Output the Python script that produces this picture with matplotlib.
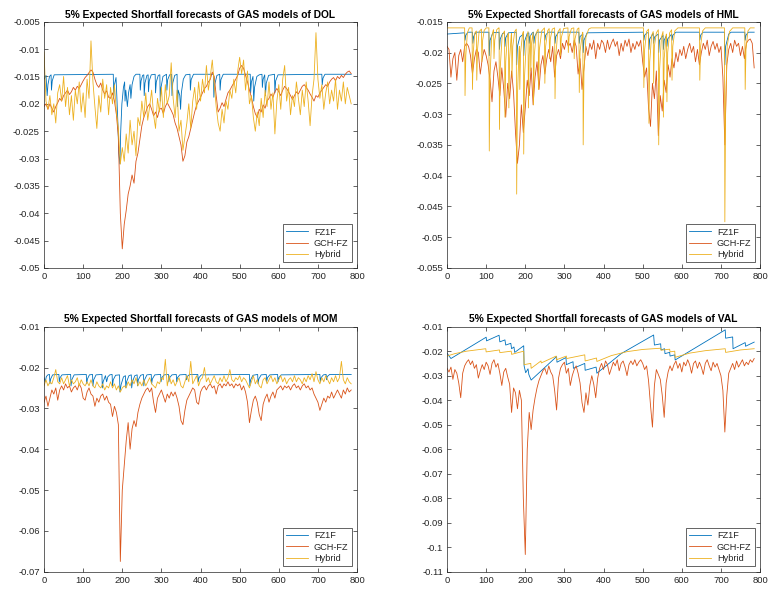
import matplotlib
matplotlib.use('Agg')
import matplotlib.pyplot as plt
import numpy as np

plt.rcParams['font.family'] = ['Liberation Sans', 'DejaVu Sans']

# values in thousandths, GCH-FZ / Hybrid sampled every 5 observations
dol_gch = [
    -20.5, -20.0, -21.0, -20.0, -20.8, -21.5, -20.5, -19.8, -19.0, -19.5,
    -18.5, -18.0, -17.5, -18.3, -17.8, -17.0, -17.5, -16.8, -17.2, -16.5,
    -15.8, -15.2, -14.8, -14.3, -13.8, -14.2, -15.5, -16.5, -17.0, -16.2,
    -17.5, -18.2, -17.6, -18.8, -19.0, -18.0, -19.5, -22.0, -26.0, -40.0,
    -46.5, -42.0, -39.5, -36.5, -35.0, -33.0, -34.5, -30.5, -29.0, -26.5,
    -24.0, -22.5, -21.5, -20.5, -20.0, -21.0, -22.2, -21.5, -22.5, -21.0,
    -20.8, -21.8, -20.5, -19.8, -20.5, -21.2, -22.0, -23.5, -24.5, -26.0,
    -27.5, -30.5, -29.5, -27.0, -26.0, -24.5, -23.0, -21.5, -20.2, -19.5,
    -18.8, -18.0, -17.2, -16.8, -16.0, -15.5, -14.2, -15.0, -18.5, -21.5,
    -20.8, -19.8, -20.5, -19.2, -18.0, -17.5, -16.8, -16.2, -15.5, -14.8,
    -13.5, -13.0, -13.5, -14.8, -16.0, -17.5, -18.8, -20.5, -21.8, -22.5,
    -21.0, -21.5, -20.2, -20.8, -19.5, -19.0, -18.2, -18.8, -17.8, -17.2,
    -17.8, -18.5, -17.5, -16.8, -17.2, -17.8, -18.5, -19.2, -18.5, -17.8,
    -18.2, -17.5, -16.8, -16.5, -17.0, -17.5, -18.2, -18.8, -19.5, -18.5,
    -18.8, -18.0, -17.5, -17.0, -16.5, -16.8, -16.0, -15.5, -15.2, -15.8,
    -15.0, -15.4, -14.8, -15.2, -14.6, -14.2, -14.0, -14.5,
]
dol_hyb = [
    -10.5, -19.5, -21.0, -18.5, -22.0, -20.0, -23.5, -18.0, -16.5, -19.5,
    -15.0, -20.5, -17.0, -22.0, -18.5, -23.0, -17.5, -20.0, -16.0, -21.5,
    -18.0, -22.5, -15.5, -19.0, -8.5, -16.0, -20.5, -24.5, -18.5, -21.5,
    -15.5, -19.0, -16.5, -22.0, -17.0, -20.0, -16.5, -21.5, -24.5, -31.0,
    -28.0, -30.5, -25.5, -29.0, -23.0, -27.5, -25.0, -29.5, -22.5, -24.0,
    -19.5, -22.5, -18.0, -23.0, -20.5, -17.5, -22.0, -24.5, -19.0, -21.5,
    -17.0, -22.5, -16.5, -20.0, -18.5, -12.5, -19.0, -22.5, -17.5, -25.0,
    -23.0, -28.5, -26.0, -23.5, -20.0, -24.5, -19.5, -17.0, -21.0, -16.0,
    -19.5, -15.5, -18.0, -13.0, -17.5, -15.0, -12.0, -16.5, -20.5, -23.5,
    -25.0, -21.0, -23.5, -19.5, -21.0, -17.5, -19.0, -15.5, -18.0, -14.0,
    -11.5, -14.5, -12.0, -17.5, -14.0, -20.0, -18.5, -22.5, -25.0, -21.5,
    -24.0, -19.0, -22.5, -17.5, -20.5, -16.0, -21.0, -18.0, -25.5, -19.5,
    -16.5, -21.0, -15.5, -13.0, -19.5, -17.0, -22.0, -18.5, -20.5, -16.0,
    -19.0, -22.0, -17.5, -20.5, -16.0, -19.5, -24.0, -18.5, -15.5, -7.0,
    -15.5, -19.0, -16.5, -21.0, -18.0, -16.0, -20.0, -17.5, -19.5, -15.5,
    -21.0, -17.5, -19.5, -16.0, -20.0, -17.0, -18.5, -20.0,
]
dol_fz = [
    (0, -15.5), (5, -14.8), (8, -18.5), (10, -16.5), (14, -15.0), (18, -14.7), (19, -17.5),
    (21, -15.8), (26, -14.7), (177, -14.6), (178, -19.0), (180, -16.5), (184, -15.2),
    (186, -18.5), (189, -24.0), (191, -29.0), (194, -31.0), (196, -25.0), (199, -20.0),
    (203, -17.0), (206, -16.0), (207, -19.5), (209, -17.5), (213, -20.5), (216, -18.0),
    (220, -16.5), (222, -19.0), (225, -16.5), (230, -15.0), (235, -14.6), (245, -14.6),
    (246, -17.5), (248, -15.8), (252, -14.8), (255, -14.7), (256, -18.5), (258, -16.2),
    (263, -14.8), (266, -14.7), (267, -17.8), (269, -15.8), (274, -14.7), (284, -14.6),
    (285, -18.0), (287, -16.0), (292, -14.8), (296, -14.7), (297, -19.5), (299, -17.0),
    (304, -15.0), (313, -14.6), (314, -17.5), (316, -15.6), (321, -14.7), (326, -14.6),
    (327, -18.5), (329, -16.2), (334, -14.8), (340, -14.6), (341, -20.5), (343, -17.5),
    (347, -18.5), (349, -21.0), (351, -18.0), (356, -15.5), (362, -14.7), (373, -14.6),
    (374, -17.5), (376, -15.6), (382, -14.6), (433, -14.6), (434, -18.8), (436, -16.5),
    (442, -14.8), (449, -14.6), (450, -17.5), (452, -15.6), (458, -14.6), (527, -14.6),
    (528, -18.0), (530, -16.0), (534, -15.0), (536, -19.5), (538, -17.0), (544, -15.0),
    (550, -14.7), (557, -14.6), (558, -17.0), (560, -15.5), (564, -14.7), (566, -18.5),
    (568, -16.2), (574, -14.8), (589, -14.6), (590, -18.0), (592, -15.8), (598, -14.7),
    (710, -14.6), (711, -16.5), (713, -15.3), (718, -14.6), (785, -14.6),
]

hml_gch = [
    -19.0, -19.5, -24.0, -21.0, -20.0, -24.5, -20.5, -19.5, -21.5, -19.0,
    -18.5, -19.0, -20.5, -23.5, -21.0, -19.5, -20.0, -23.5, -21.0, -19.5,
    -20.5, -22.0, -24.5, -28.0, -23.0, -21.5, -24.0, -27.0, -22.5, -26.0,
    -30.5, -25.0, -27.5, -23.0, -26.5, -33.0, -38.0, -35.0, -28.5, -33.0,
    -29.0, -24.5, -27.0, -22.5, -28.5, -24.0, -21.5, -26.0, -22.0, -20.5,
    -23.5, -21.0, -19.5, -21.5, -19.0, -24.0, -20.5, -19.5, -21.0, -18.5,
    -19.5, -18.0, -19.0, -18.5, -20.0, -18.0, -19.0, -23.5, -21.0, -26.0,
    -22.5, -19.0, -20.5, -18.5, -19.5, -18.0, -21.0, -18.5, -19.5, -18.0,
    -18.5, -20.0, -18.0, -19.5, -18.5, -17.8, -19.0, -18.2, -20.5, -18.5,
    -19.8, -18.0, -19.0, -17.8, -20.0, -18.5, -19.5, -18.2, -19.0, -18.0,
    -21.5, -24.0, -22.5, -29.0, -32.0, -25.0, -27.5, -23.0, -33.5, -27.0,
    -29.5, -24.5, -26.5, -22.0, -24.0, -21.0, -22.5, -20.0, -21.5, -19.5,
    -20.5, -19.0, -21.0, -19.5, -18.5, -20.0, -19.0, -21.5, -19.5, -22.0,
    -20.0, -18.5, -19.5, -18.0, -20.5, -19.0, -18.2, -19.5, -18.5, -20.0,
    -19.0, -24.0, -35.0, -22.0, -19.5, -18.5, -20.0, -18.0, -19.0, -18.5,
    -20.5, -19.0, -21.0, -18.5, -18.0, -17.8, -18.5, -22.5,
]
hml_hyb = [
    (0, -16.0), (45, -16.0), (46, -27.0), (48, -20.5), (52, -16.8), (57, -16.0),
    (64, -16.0), (65, -26.0), (67, -20.0), (71, -16.8), (75, -16.5), (76, -24.5),
    (78, -19.5), (82, -16.6), (88, -16.2), (89, -21.5), (91, -18.0), (95, -16.4),
    (100, -16.0), (107, -16.0), (108, -36.0), (110, -24.0), (114, -17.5), (118, -16.4),
    (119, -16.3), (120, -21.0), (122, -18.0), (127, -16.3), (132, -16.0), (133, -16.0),
    (134, -32.5), (136, -22.5), (141, -17.2), (147, -16.5), (148, -30.5), (150, -21.5),
    (154, -17.5), (157, -16.8), (158, -29.0), (160, -21.0), (164, -17.2), (165, -16.9),
    (166, -24.0), (168, -19.0), (173, -16.6), (177, -16.2), (178, -43.0), (180, -27.0),
    (184, -19.5), (185, -19.0), (186, -26.0), (188, -20.0), (193, -17.0), (195, -16.6),
    (196, -36.5), (198, -24.0), (203, -17.8), (207, -16.6), (208, -29.0), (210, -20.5),
    (213, -17.2), (214, -23.0), (216, -18.5), (220, -16.7), (221, -28.5), (223, -20.5),
    (228, -16.8), (233, -16.2), (234, -26.0), (236, -19.5), (242, -16.5), (249, -16.0),
    (250, -25.0), (252, -19.0), (257, -16.5), (261, -16.1), (262, -21.0), (264, -17.8),
    (269, -16.2), (275, -16.0), (276, -27.5), (278, -20.5), (283, -16.7), (289, -16.1),
    (290, -20.5), (292, -17.6), (298, -16.1), (309, -16.0), (310, -20.0), (312, -17.4),
    (318, -16.1), (324, -16.0), (325, -21.0), (327, -17.8), (333, -16.2), (337, -16.0),
    (338, -26.5), (340, -19.8), (346, -16.8), (347, -16.7), (348, -35.0), (350, -23.0),
    (355, -17.5), (362, -16.2), (368, -16.0), (502, -16.0), (503, -25.7), (505, -19.5),
    (510, -16.6), (515, -16.2), (516, -31.5), (518, -21.5), (523, -17.2), (527, -16.6),
    (528, -25.0), (530, -19.0), (535, -16.8), (540, -16.3), (541, -35.0), (543, -23.0),
    (548, -17.5), (552, -16.6), (553, -30.5), (555, -21.0), (560, -17.1), (561, -17.0),
    (562, -28.0), (564, -20.0), (569, -16.8), (574, -16.3), (575, -24.5), (577, -19.0),
    (582, -16.5), (590, -16.0), (645, -16.0), (646, -24.5), (648, -19.0), (653, -16.5),
    (660, -16.0), (709, -16.0), (710, -47.5), (712, -29.0), (716, -19.0), (722, -16.6),
    (730, -16.0), (761, -16.0), (762, -26.0), (764, -19.5), (769, -16.5), (775, -16.0),
    (785, -16.0),
]
hml_fz = [
    (0, -17.0), (45, -16.8), (46, -18.0), (48, -17.2), (53, -16.7), (65, -16.7), (66, -18.5),
    (68, -17.4), (74, -16.7), (107, -16.7), (108, -20.5), (110, -18.0), (117, -16.8),
    (133, -16.7), (134, -19.5), (136, -17.8), (142, -16.9), (147, -16.8), (148, -19.0),
    (150, -17.6), (157, -16.8), (177, -16.7), (178, -22.0), (180, -19.0), (186, -17.5),
    (195, -17.0), (196, -20.5), (198, -18.2), (205, -16.9), (209, -16.8), (210, -18.5),
    (212, -17.4), (218, -16.8), (221, -16.7), (222, -18.5), (224, -17.4), (230, -16.7),
    (249, -16.7), (250, -18.0), (252, -17.2), (258, -16.7), (275, -16.7), (276, -18.5),
    (278, -17.4), (285, -16.7), (337, -16.7), (338, -18.5), (340, -17.4), (347, -17.0),
    (348, -20.0), (350, -18.0), (358, -16.8), (502, -16.7), (503, -18.0), (505, -17.2),
    (511, -16.8), (515, -16.8), (516, -19.5), (518, -17.8), (527, -16.9), (528, -18.5),
    (530, -17.5), (540, -17.0), (541, -20.0), (543, -18.0), (552, -17.2), (553, -19.5),
    (555, -18.0), (561, -17.2), (562, -19.0), (564, -17.8), (574, -17.0), (575, -18.0),
    (577, -17.2), (585, -16.7), (645, -16.7), (646, -18.0), (648, -17.2), (654, -16.7),
    (709, -16.7), (710, -22.0), (712, -19.0), (720, -17.0), (726, -16.7), (761, -16.7),
    (762, -18.0), (764, -17.2), (770, -16.7), (785, -16.7),
]

mom_gch = [
    -28.5, -27.0, -29.5, -27.5, -25.5, -26.5, -25.0, -28.0, -25.5, -24.5,
    -25.5, -24.0, -25.0, -24.5, -26.0, -25.0, -24.5, -25.5, -24.0, -25.0,
    -27.5, -28.0, -26.0, -25.0, -26.5, -27.0, -29.5, -27.5, -28.5, -27.0,
    -26.5, -28.0, -27.0, -28.5, -29.0, -32.0, -29.5, -31.0, -34.0, -67.5,
    -50.0, -44.0, -38.0, -33.5, -40.0, -35.0, -33.0, -34.5, -31.0, -29.0,
    -27.5, -26.5, -25.5, -25.0, -26.0, -25.0, -28.5, -31.0, -27.5, -26.5,
    -25.5, -27.0, -28.5, -26.5, -27.5, -26.0, -27.0, -26.0, -27.5, -29.5,
    -33.0, -34.0, -30.5, -28.0, -27.0, -26.0, -25.0, -25.5, -28.5, -29.0,
    -26.0, -25.0, -24.5, -25.5, -24.5, -24.0, -25.0, -24.5, -26.5, -24.5,
    -24.0, -25.0, -24.0, -24.5, -23.5, -24.5, -24.0, -25.0, -24.0, -24.5,
    -24.0, -25.5, -24.5, -26.0, -28.5, -33.5, -30.5, -28.0, -27.0, -28.5,
    -31.5, -33.0, -29.0, -27.5, -26.5, -28.5, -27.0, -26.0, -27.5, -25.5,
    -25.0, -24.5, -25.5, -24.5, -25.0, -24.5, -25.5, -24.5, -24.0, -25.0,
    -24.5, -25.5, -24.5, -24.0, -25.0, -24.5, -25.5, -25.0, -26.5, -27.5,
    -28.5, -30.5, -29.0, -27.5, -28.5, -27.0, -27.5, -26.0, -27.5, -26.5,
    -25.5, -26.5, -27.5, -25.5, -26.5, -25.0, -26.0, -25.5,
]
mom_hyb = [
    -24.5, -23.0, -24.5, -23.5, -24.0, -22.5, -20.5, -23.5, -24.0, -22.5,
    -24.0, -23.0, -22.0, -24.5, -23.0, -24.0, -23.5, -22.5, -24.5, -23.0,
    -24.0, -24.5, -23.5, -24.5, -23.0, -24.5, -25.0, -23.5, -24.5, -25.0,
    -24.0, -25.5, -24.5, -25.0, -23.5, -25.0, -24.0, -25.5, -24.5, -26.0,
    -25.0, -24.5, -25.0, -23.5, -24.5, -23.0, -24.0, -22.5, -24.5, -23.5,
    -24.5, -23.0, -24.5, -23.5, -22.5, -24.0, -24.5, -25.0, -23.5, -24.0,
    -22.5, -23.0, -18.0, -24.5, -22.0, -24.0, -23.0, -24.5, -23.5, -22.5,
    -24.5, -25.0, -23.5, -22.0, -23.5, -18.5, -24.0, -23.0, -22.0, -24.5,
    -23.0, -22.5, -20.0, -23.5, -22.5, -24.0, -23.0, -22.0, -23.5, -24.0,
    -22.5, -23.5, -22.0, -23.5, -22.5, -20.5, -23.0, -23.5, -22.5, -23.0,
    -22.0, -23.5, -22.5, -23.0, -24.0, -25.0, -23.5, -22.0, -24.0, -23.0,
    -24.5, -25.0, -23.0, -22.5, -24.0, -23.0, -22.0, -23.5, -22.5, -24.0,
    -23.0, -22.0, -23.5, -22.5, -24.0, -23.0, -22.5, -23.5, -22.0, -23.5,
    -22.5, -23.0, -24.0, -22.5, -23.5, -22.0, -23.0, -21.5, -23.5, -21.0,
    -23.0, -24.0, -22.5, -23.5, -22.0, -23.0, -24.0, -22.5, -23.5, -22.0,
    -23.5, -22.5, -18.5, -23.0, -24.0, -22.5, -23.5, -24.0,
]
mom_fz = [
    (0, -22.5), (3, -23.5), (6, -22.2), (10, -21.8), (14, -21.7), (15, -24.0), (17, -22.8),
    (22, -21.8), (38, -21.7), (39, -23.5), (41, -22.5), (46, -21.8), (68, -21.7), (69, -24.5),
    (71, -23.0), (77, -21.8), (108, -21.7), (109, -24.0), (111, -22.8), (116, -21.8),
    (124, -21.7), (125, -24.5), (127, -23.0), (133, -21.8), (148, -21.7), (149, -25.0),
    (151, -23.5), (157, -22.0), (160, -23.5), (163, -22.3), (168, -21.8), (174, -21.7),
    (175, -24.5), (177, -23.0), (183, -21.9), (193, -21.8), (194, -26.0), (197, -24.2),
    (203, -22.3), (208, -22.0), (209, -25.0), (211, -23.5), (217, -22.0), (223, -21.8),
    (224, -25.0), (226, -23.5), (232, -22.0), (238, -21.8), (239, -24.5), (241, -23.0),
    (247, -21.9), (254, -21.7), (255, -24.5), (257, -23.0), (263, -21.8), (274, -21.7),
    (275, -24.0), (277, -22.8), (283, -21.8), (298, -21.7), (299, -23.5), (301, -22.5),
    (307, -21.8), (318, -21.7), (319, -23.5), (321, -22.5), (327, -21.8), (338, -21.7),
    (339, -23.5), (341, -22.5), (347, -21.8), (363, -21.7), (364, -23.0), (366, -22.2),
    (372, -21.7), (393, -21.7), (394, -23.5), (396, -22.5), (402, -21.8), (525, -21.7),
    (526, -24.5), (528, -23.0), (534, -21.9), (546, -21.7), (547, -24.0), (549, -22.8),
    (555, -21.8), (568, -21.7), (569, -23.5), (571, -22.5), (577, -21.8), (597, -21.7),
    (598, -23.5), (600, -22.5), (606, -21.8), (705, -21.7), (706, -23.5), (708, -22.5),
    (714, -21.8), (721, -21.7), (722, -23.0), (724, -22.2), (730, -21.7), (785, -21.7),
]

val_gch = [
    -27.0, -28.5, -26.5, -31.5, -27.5, -29.0, -33.0, -39.0, -29.0, -26.0,
    -24.5, -23.5, -25.5, -24.0, -27.0, -25.5, -31.0, -28.0, -25.5, -27.5,
    -24.5, -26.0, -29.5, -25.0, -23.5, -26.5, -25.0, -29.0, -34.0, -28.5,
    -27.0, -30.5, -33.5, -45.0, -35.0, -37.0, -43.5, -36.0, -40.0, -80.0,
    -103.0, -60.0, -45.0, -52.0, -44.0, -39.0, -35.0, -32.0, -30.0, -28.0,
    -27.0, -29.5, -26.0, -28.5, -30.0, -36.0, -44.0, -31.0, -27.0, -25.5,
    -24.5, -29.0, -27.0, -34.0, -30.0, -27.5, -26.0, -29.0, -33.0, -41.0,
    -45.0, -37.0, -42.0, -34.0, -30.0, -33.5, -39.0, -31.0, -27.0, -25.0,
    -27.5, -24.0, -25.5, -29.5, -27.0, -24.5, -26.0, -23.5, -28.0, -25.0,
    -24.0, -26.5, -30.0, -25.5, -24.0, -25.5, -23.5, -26.0, -24.5, -23.5,
    -25.0, -27.5, -26.0, -32.0, -42.0, -51.0, -34.0, -27.5, -29.5, -31.5,
    -38.0, -47.0, -33.0, -28.5, -26.0, -28.0, -25.5, -24.0, -27.0, -25.0,
    -28.5, -24.5, -26.0, -23.5, -25.5, -29.0, -25.0, -24.0, -27.0, -24.5,
    -26.5, -29.5, -25.0, -23.5, -26.0, -28.0, -24.5, -26.5, -25.0, -27.5,
    -30.0, -36.0, -53.0, -38.0, -29.0, -27.0, -25.0, -27.5, -24.0, -26.5,
    -25.0, -23.5, -26.0, -24.5, -25.5, -23.5, -24.5, -23.0,
]
val_hyb = [
    (0, -22.0), (20, -21.0), (50, -20.0), (99, -19.0), (100, -20.3), (134, -19.5),
    (135, -20.6), (164, -20.0), (165, -21.3), (196, -20.0), (197, -25.5), (214, -25.0),
    (215, -27.0), (240, -24.0), (241, -24.8), (279, -22.0), (280, -23.5), (305, -22.0),
    (306, -23.0), (352, -21.5), (353, -24.0), (382, -22.8), (383, -24.2), (420, -21.8),
    (460, -20.2), (500, -19.3), (546, -18.8), (547, -19.6), (569, -19.2), (570, -20.3),
    (582, -20.0), (583, -22.5), (620, -20.8), (660, -19.8), (711, -19.0), (712, -20.5),
    (750, -19.5), (785, -19.0),
]
val_fz = [
    (0, -20.8), (10, -23.0), (100, -14.3), (101, -15.8), (133, -13.5), (135, -16.2),
    (148, -15.4), (150, -17.5), (163, -16.8), (165, -19.0), (171, -18.3), (173, -20.5),
    (196, -17.8), (197, -26.0), (201, -28.8), (207, -27.2), (209, -29.5), (215, -31.8),
    (280, -22.2), (281, -24.5), (304, -22.6), (305, -25.5), (322, -24.3), (323, -27.0),
    (352, -25.0), (353, -27.8), (381, -26.5), (383, -29.0), (445, -21.0), (528, -13.4),
    (530, -17.5), (546, -17.0), (547, -19.5), (556, -19.0), (557, -21.0), (569, -20.5),
    (570, -22.0), (582, -21.5), (583, -23.6), (711, -11.3), (712, -14.7), (730, -14.2),
    (731, -19.0), (762, -16.5), (763, -18.0), (785, -16.3),
]

panels = [
    ('DOL', dol_fz, dol_gch, dol_hyb, (-0.05, -0.005), 0.005),
    ('HML', hml_fz, hml_gch, hml_hyb, (-0.055, -0.015), 0.005),
    ('MOM', mom_fz, mom_gch, mom_hyb, (-0.07, -0.01), 0.01),
    ('VAL', val_fz, val_gch, val_hyb, (-0.11, -0.01), 0.01),
]
names = ['FZ1F', 'GCH-FZ', 'Hybrid']
colors = ['#0072BD', '#D95319', '#EDB120']
dark = '#262626'


def to_xy(series):
    # either a plain list sampled every 5 obs, or (x, y) pairs
    if isinstance(series[0], tuple):
        x, y = zip(*series)
        return np.array(x), np.array(y) / 1000
    return np.arange(len(series)) * 5, np.array(series) / 1000


fig = plt.figure(figsize=(7.71, 5.92), dpi=100)
boxes = [
    [0.0571, 0.5473, 0.4060, 0.4160],
    [0.5798, 0.5473, 0.4060, 0.4160],
    [0.0571, 0.0343, 0.4060, 0.4139],
    [0.5798, 0.0343, 0.4060, 0.4139],
]

for box, (name, fz, gch, hyb, ylim, step) in zip(boxes, panels):
    ax = fig.add_axes(box)
    for s, lab, c in zip([fz, gch, hyb], names, colors):
        x, y = to_xy(s)
        ax.plot(x, y, color=c, lw=0.6, label=lab)
    ax.set_xlim(0, 800)
    ax.set_ylim(*ylim)
    ax.set_xticks(np.arange(0, 801, 100))
    ax.set_yticks(np.arange(ylim[0], ylim[1] + step / 2, step))
    ax.yaxis.set_major_formatter(matplotlib.ticker.FormatStrFormatter('%g'))
    ax.tick_params(direction='in', top=True, right=True, length=3, width=0.5,
                   labelsize=6.8, colors=dark, pad=3)
    for sp in ax.spines.values():
        sp.set_linewidth(0.5)
        sp.set_color(dark)
    ax.set_title('5% Expected Shortfall forecasts of GAS models of ' + name,
                 fontsize=7.4, fontweight='bold', pad=3)
    leg = ax.legend(loc='lower right', fontsize=6.6, fancybox=False, framealpha=1,
                    edgecolor=dark, handlelength=2.4, borderaxespad=0.6,
                    labelspacing=0.25, handletextpad=0.6, borderpad=0.35)
    leg.get_frame().set_linewidth(0.5)
    for t in leg.get_texts():
        t.set_color(dark)

fig.savefig('out.png', dpi=100)
